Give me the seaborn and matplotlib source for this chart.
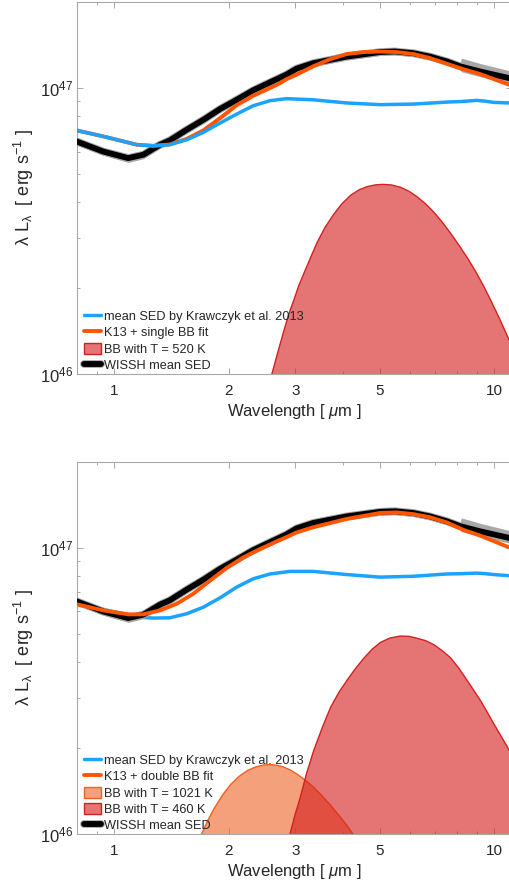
import numpy as np
import seaborn as sns
import matplotlib.pyplot as plt
import matplotlib.patheffects as pe
from matplotlib.ticker import FixedLocator, NullFormatter

# --- data (wavelength in micron, log10 of lambda*L_lambda) ---
wl_wissh = [0.79, 0.935, 1.088, 1.193, 1.32, 1.40, 1.55, 1.716, 1.90, 2.10, 2.32, 2.57, 2.84,
            3.02, 3.34, 4.09, 5.01, 5.48, 6.13, 6.78, 7.51, 8.14, 8.2, 9.19, 10.95, 11.3]
lg_wissh = [46.815, 46.778, 46.755, 46.767, 46.802, 46.817, 46.854, 46.889, 46.927, 46.959, 46.992,
            47.020, 47.047, 47.068, 47.087, 47.110, 47.126, 47.128, 47.122, 47.110, 47.093, 47.076,
            47.075, 47.058, 47.035, 47.030]
err_up = [0.013, 0.013, 0.015, 0.014, 0.012, 0.012, 0.012, 0.012, 0.012, 0.012, 0.012, 0.012, 0.012,
          0.012, 0.012, 0.012, 0.012, 0.012, 0.012, 0.012, 0.012, 0.012, 0.030, 0.028, 0.026, 0.026]
err_lo = [0.013, 0.013, 0.015, 0.014, 0.012, 0.012, 0.012, 0.012, 0.012, 0.012, 0.012, 0.012, 0.012,
          0.012, 0.012, 0.012, 0.012, 0.012, 0.012, 0.012, 0.012, 0.012, 0.018, 0.018, 0.018, 0.018]

# panel 1
wl_k13_a = [0.79, 0.935, 1.146, 1.267, 1.40, 1.55, 1.716, 1.90, 2.10, 2.32, 2.57, 2.84, 3.34, 4.09,
            5.01, 6.13, 7.51, 8.2, 9.0, 9.5, 9.98, 10.95, 11.3]
lg_k13_a = [46.853, 46.831, 46.802, 46.798, 46.802, 46.819, 46.845, 46.878, 46.909, 46.938, 46.956,
            46.963, 46.959, 46.948, 46.942, 46.944, 46.951, 46.953, 46.957, 46.954, 46.950, 46.948, 46.947]
wl_fit_a = [0.79, 0.935, 1.146, 1.267, 1.40, 1.55, 1.716, 1.90, 2.10, 2.32, 2.57, 2.73, 2.84, 3.02,
            3.34, 3.70, 4.09, 4.53, 5.01, 5.54, 6.13, 6.78, 7.51, 8.30, 9.19, 10.95, 11.3]
lg_fit_a = [46.853, 46.831, 46.802, 46.798, 46.803, 46.822, 46.852, 46.895, 46.940, 46.973, 47.000,
            47.017, 47.031, 47.047, 47.076, 47.101, 47.119, 47.126, 47.128, 47.126, 47.119, 47.105,
            47.085, 47.066, 47.049, 47.012, 47.004]
wl_bb520 = [2.40, 2.59, 2.69, 2.79, 2.87, 2.96, 3.05, 3.15, 3.28, 3.41, 3.58, 3.77, 3.97, 4.18,
            4.40, 4.62, 4.84, 5.06, 5.35, 5.65, 5.95, 6.26, 6.58, 6.92, 7.28, 7.66, 8.06, 8.48,
            8.92, 9.37, 9.85, 10.35, 10.95, 11.4]
lg_bb520 = [45.90, 46.00, 46.08, 46.155, 46.21, 46.26, 46.31, 46.355, 46.41, 46.462, 46.515, 46.560,
            46.598, 46.627, 46.646, 46.657, 46.663, 46.665, 46.663, 46.655, 46.641, 46.621, 46.597,
            46.568, 46.533, 46.494, 46.452, 46.408, 46.36, 46.308, 46.25, 46.19, 46.118, 46.06]

# panel 2
wl_k13_b = [0.79, 0.935, 1.169, 1.267, 1.40, 1.55, 1.716, 1.90, 2.10, 2.32, 2.57, 2.90, 3.34, 4.09,
            5.01, 6.13, 7.51, 8.2, 9.0, 9.5, 9.98, 10.95, 11.3]
lg_k13_b = [46.807, 46.785, 46.758, 46.755, 46.756, 46.770, 46.793, 46.826, 46.863, 46.892, 46.909,
            46.918, 46.918, 46.907, 46.898, 46.901, 46.909, 46.910, 46.912, 46.910, 46.907, 46.903, 46.902]
wl_fit_b = [0.79, 0.935, 1.088, 1.193, 1.32, 1.46, 1.615, 1.787, 1.977, 2.187, 2.42, 2.68, 2.90,
            3.02, 3.34, 4.09, 5.01, 5.54, 6.13, 6.78, 7.51, 8.30, 9.19, 10.95, 11.3]
lg_fit_b = [46.804, 46.782, 46.768, 46.768, 46.782, 46.805, 46.840, 46.886, 46.930, 46.967, 46.996,
            47.023, 47.043, 47.054, 47.072, 47.101, 47.122, 47.124, 47.118, 47.107, 47.089, 47.063,
            47.043, 47.002, 46.994]
wl_bb1021 = [1.60, 1.689, 1.75, 1.823, 1.92, 2.017, 2.12, 2.232, 2.35, 2.47, 2.57, 2.67, 2.78,
             2.90, 3.02, 3.18, 3.33, 3.48, 3.70, 3.93, 4.10, 4.25, 4.45]
lg_bb1021 = [45.94, 46.0, 46.045, 46.09, 46.138, 46.175, 46.203, 46.224, 46.237, 46.244, 46.245,
             46.243, 46.237, 46.226, 46.212, 46.19, 46.167, 46.142, 46.103, 46.061, 46.03, 46.0, 45.96]
wl_bb460 = [2.78, 2.89, 2.98, 3.08, 3.20, 3.34, 3.52, 3.70, 3.89, 4.09, 4.30, 4.53, 4.76, 5.01,
            5.30, 5.65, 5.95, 6.26, 6.58, 6.92, 7.28, 7.66, 8.06, 8.48, 8.83, 9.19, 9.57, 9.96,
            10.45, 10.95, 11.4]
lg_bb460 = [45.93, 46.0, 46.068, 46.131, 46.215, 46.294, 46.375, 46.445, 46.497, 46.540, 46.580,
            46.617, 46.648, 46.672, 46.687, 46.694, 46.693, 46.686, 46.678, 46.664, 46.643, 46.618,
            46.581, 46.538, 46.503, 46.468, 46.428, 46.387, 46.34, 46.294, 46.25]

BLUE = '#1aa3ff'
ORANGE = '#ff5500'
BLACK = '#000000'
GRAY = '#a8a8a8'
COOL = (212/255, 25/255, 25/255, 0.6)
COOL_EDGE = '#d42020'
HOT = (238/255, 97/255, 33/255, 0.6)
HOT_EDGE = '#f06020'

sns.set_style("ticks")
plt.rcParams['font.family'] = ['Liberation Sans', 'DejaVu Sans']
plt.rcParams['mathtext.fontset'] = 'custom'
plt.rcParams['mathtext.rm'] = 'Liberation Sans'
plt.rcParams['mathtext.it'] = 'Liberation Sans:italic'

fig = plt.figure(figsize=(5.09, 8.83), dpi=100)
ax1 = fig.add_axes([77/509, 0.57644, 435/509, 0.42129])
ax2 = fig.add_axes([77/509, 0.05515, 435/509, 0.42197])


def p(v):
    return 10 ** np.asarray(v)


def draw_wissh(ax):
    ax.fill_between(wl_wissh, p(np.array(lg_wissh) - np.array(err_lo)),
                    p(np.array(lg_wissh) + np.array(err_up)), color=GRAY, lw=0, zorder=4)
    sns.lineplot(x=wl_wissh, y=p(lg_wissh), ax=ax, color=BLACK, lw=4.2, zorder=5,
                 path_effects=[pe.Stroke(linewidth=5.6, foreground=GRAY), pe.Normal()])
    return ax.lines[-1]


def style_axes(ax):
    ax.set_xscale('log')
    ax.set_yscale('log')
    ax.set_xlim(0.7976, 11.15)
    ax.set_ylim(1e46, 2e47)
    ax.xaxis.set_major_locator(FixedLocator([1, 2, 3, 5, 10]))
    ax.set_xticklabels(['1', '2', '3', '5', '10'])
    ax.xaxis.set_minor_locator(FixedLocator([0.8, 0.9, 4, 6, 7, 8, 9, 11]))
    ax.xaxis.set_minor_formatter(NullFormatter())
    ax.yaxis.set_major_locator(FixedLocator([1e46, 1e47]))
    ax.yaxis.set_minor_locator(FixedLocator([k * 1e46 for k in range(2, 10)] + [2e47]))
    ax.yaxis.set_minor_formatter(NullFormatter())
    ax.tick_params(which='both', direction='in', top=True, right=True, colors='#9a9a9a',
                   labelcolor='#262626')
    ax.tick_params(axis='x', labelsize=11, pad=7)
    ax.tick_params(axis='y', labelsize=12, pad=3)
    ax.tick_params(which='major', length=4, width=0.6)
    ax.tick_params(which='minor', length=2.5, width=0.6)
    for s in ax.spines.values():
        s.set_color('#a8a8a8')
        s.set_linewidth(0.8)
    ax.set_xlabel(r'Wavelength [ $\mu$m ]', fontsize=12, color='#262626', labelpad=3)
    ax.set_ylabel(r'λ L$_{\mathdefault{λ}}$  [ erg s$^{\mathdefault{-1}}$ ]', fontsize=13,
                  color='#262626', labelpad=3)


LEG = dict(loc='lower left', bbox_to_anchor=(0.012, 0.0), frameon=False, fontsize=9.2,
           handlelength=1.3, handletextpad=0.25, handleheight=0.95, labelspacing=0.27,
           borderaxespad=0.0, borderpad=0.15)

# ---- top panel: single BB ----
h_bb = ax1.fill_between(wl_bb520, 1e45, p(lg_bb520), facecolor=COOL, edgecolor=COOL_EDGE,
                        lw=1.0, zorder=1)
h_blk = draw_wissh(ax1)
sns.lineplot(x=wl_fit_a, y=p(lg_fit_a), ax=ax1, color=ORANGE, lw=2.8, zorder=6)
h_org = ax1.lines[-1]
sns.lineplot(x=wl_k13_a, y=p(lg_k13_a), ax=ax1, color=BLUE, lw=2.5, zorder=7)
h_blue = ax1.lines[-1]
style_axes(ax1)
ax1.legend([h_blue, h_org, h_bb, h_blk],
           ['mean SED by Krawczyk et al. 2013', 'K13 + single BB fit', 'BB with T = 520 K',
            'WISSH mean SED'], **LEG)

# ---- bottom panel: double BB ----
sns.lineplot(x=wl_k13_b, y=p(lg_k13_b), ax=ax2, color=BLUE, lw=2.5, zorder=2)
h_blue = ax2.lines[-1]
h_hot = ax2.fill_between(wl_bb1021, 1e45, p(lg_bb1021), facecolor=HOT, edgecolor=HOT_EDGE,
                         lw=1.0, zorder=1)
h_cool = ax2.fill_between(wl_bb460, 1e45, p(lg_bb460), facecolor=COOL, edgecolor=COOL_EDGE,
                          lw=1.0, zorder=1.5)
h_blk = draw_wissh(ax2)
sns.lineplot(x=wl_fit_b, y=p(lg_fit_b), ax=ax2, color=ORANGE, lw=2.8, zorder=6)
h_org = ax2.lines[-1]
style_axes(ax2)
ax2.legend([h_blue, h_org, h_hot, h_cool, h_blk],
           ['mean SED by Krawczyk et al. 2013', 'K13 + double BB fit', 'BB with T = 1021 K',
            'BB with T = 460 K', 'WISSH mean SED'], **LEG)

fig.savefig('out.png', dpi=100)
